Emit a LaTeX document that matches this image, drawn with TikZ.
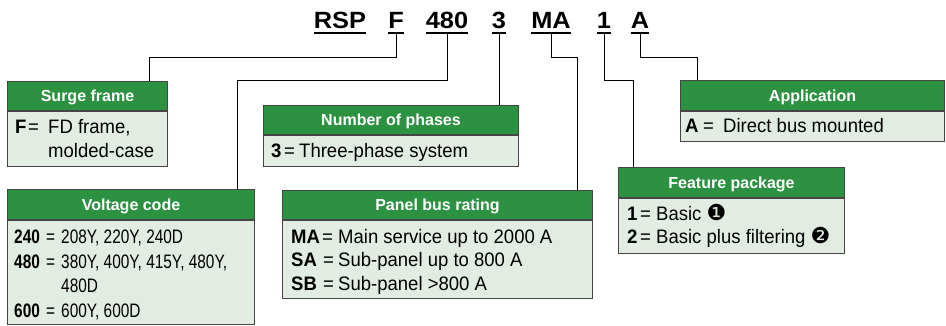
\documentclass[tikz,border=0pt]{standalone}
\usepackage{fontspec}
\setmainfont{Liberation Sans}
\newfontfamily\bodyfont{Liberation Sans}[FakeStretch=0.95]
\newfontfamily\hdrfont{Liberation Sans}
\newfontfamily\numfont{Liberation Sans}[FakeStretch=0.79]
\newfontfamily\titlefont{Liberation Sans}[FakeStretch=1.08]
\newfontfamily\dingfont{DejaVu Sans}
\definecolor{hdrgreen}{RGB}{44,146,66}
\definecolor{bodyfill}{RGB}{227,236,226}
\definecolor{bordergray}{RGB}{70,70,70}
\newcommand{\dg}[1]{{\dingfont\fontsize{22}{22}\selectfont #1}}
\tikzset{
  hdr/.style={draw=bordergray, line width=1pt, fill=hdrgreen, text=white,
    font=\hdrfont\fontsize{16}{18}\selectfont\bfseries, inner sep=0pt,
    anchor=north west, text height=11.5pt, text depth=0pt},
  bodyrect/.style={draw=bordergray, line width=1pt, fill=bodyfill, inner sep=0pt, anchor=north west},
  btxt/.style={anchor=base west, inner sep=0pt, font=\bodyfont\fontsize{19.5}{22}\selectfont},
  ntxt/.style={anchor=base west, inner sep=0pt, font=\numfont\fontsize{19.5}{22}\selectfont},
  ttl/.style={anchor=base, inner sep=0pt, font=\titlefont\fontsize{23.5}{26}\selectfont\bfseries},
  conn/.style={draw=black, line width=0.9pt},
  uline/.style={draw=black, line width=2.2pt}
}
\begin{document}
\begin{tikzpicture}[x=1pt,y=-1pt]
\useasboundingbox (0,0) rectangle (946,325);

% title
\node[ttl] (tRSP) at (340,28) {RSP};
\node[ttl] (tF) at (396,28) {F};
\node[ttl] (t480) at (447,28) {480};
\node[ttl] (t3) at (499,28) {3};
\node[ttl] (tMA) at (551,28) {MA};
\node[ttl] (t1) at (604,28) {1};
\node[ttl] (tA) at (640,28) {A};
\foreach \n in {tRSP,tF,t480,t3,tMA,t1,tA}{
  \draw[uline] ([yshift=-5pt]\n.base west) -- ([yshift=-5pt]\n.base east);
  \coordinate (u\n) at ([yshift=-5pt]\n.base);
}

% Surge frame
\node[hdr, minimum width=160pt, minimum height=29pt] (sfh) at (7,81) {Surge frame};
\node[bodyrect, minimum width=160pt, minimum height=55pt] (sfb) at (sfh.south west) {};
\node[btxt] (sf1) at (15,133) {\makebox[13pt][l]{\textbf{F}}\makebox[20pt][l]{=}FD frame,};
\node[btxt] (sf2) at (48,157) {molded-case};

% Voltage code
\node[hdr, minimum width=247pt, minimum height=30pt] (vch) at (7,189) {Voltage code};
\node[bodyrect, minimum width=247pt, minimum height=104pt] (vcb) at (vch.south west) {};
\node[ntxt] (vc1) at (14,243) {\makebox[32pt][l]{\textbf{240}}\makebox[15pt][l]{=}208Y, 220Y, 240D};
\node[ntxt] (vc2) at (14,268) {\makebox[32pt][l]{\textbf{480}}\makebox[15pt][l]{=}380Y, 400Y, 415Y, 480Y,};
\node[ntxt] (vc3) at (61,292) {480D};
\node[ntxt] (vc4) at (14,317) {\makebox[32pt][l]{\textbf{600}}\makebox[15pt][l]{=}600Y, 600D};

% Number of phases
\node[hdr, minimum width=255pt, minimum height=29pt] (nph) at (263,105) {Number of phases};
\node[bodyrect, minimum width=255pt, minimum height=31pt] (npb) at (nph.south west) {};
\node[btxt] (np1) at (271,157) {\makebox[13pt][l]{\textbf{3}}\makebox[15pt][l]{=}Three-phase system};

% Panel bus rating
\node[hdr, minimum width=310pt, minimum height=29pt] (pbh) at (282,190) {Panel bus rating};
\node[bodyrect, minimum width=310pt, minimum height=78pt] (pbb) at (pbh.south west) {};
\node[btxt] (pb1) at (291,243) {\makebox[31pt][l]{\textbf{MA}}\makebox[16pt][l]{=}Main service up to 2000 A};
\node[btxt] (pb2) at (291,266) {\makebox[32pt][l]{\textbf{SA}}\makebox[15pt][l]{=}Sub-panel up to 800 A};
\node[btxt] (pb3) at (291,290) {\makebox[32pt][l]{\textbf{SB}}\makebox[15pt][l]{=}Sub-panel >800 A};

% Feature package
\node[hdr, minimum width=226pt, minimum height=30pt] (fph) at (618,167) {Feature package};
\node[bodyrect, minimum width=226pt, minimum height=55pt] (fpb) at (fph.south west) {};
\node[btxt] (fp1) at (627,220) {\makebox[13pt][l]{\textbf{1}}\makebox[16pt][l]{=}Basic \dg{❶}};
\node[btxt] (fp2) at (627,243) {\makebox[13pt][l]{\textbf{2}}\makebox[16pt][l]{=}Basic plus filtering \dg{❷}};

% Application
\node[hdr, minimum width=264pt, minimum height=30pt] (aph) at (680,80) {Application};
\node[bodyrect, minimum width=264pt, minimum height=30pt] (apb) at (aph.south west) {};
\node[btxt] (ap1) at (685,132) {\makebox[18pt][l]{\textbf{A}}\makebox[20pt][l]{=}Direct bus mounted};

% connectors
\coordinate (bF) at (149,57);
\coordinate (b480) at (237,80);
\coordinate (bMA) at (577,57);
\coordinate (b1) at (633,80);
\coordinate (bA) at (697,57);
\draw[conn] (utF) |- (bF) -- (bF |- sfh.north);
\draw[conn] (ut480) |- (b480) -- (b480 |- vch.north);
\draw[conn] (ut3) -- (ut3 |- nph.north);
\draw[conn] (utMA) |- (bMA) -- (bMA |- pbh.north);
\draw[conn] (ut1) |- (b1) -- (b1 |- fph.north);
\draw[conn] (utA) |- (bA) -- (bA |- aph.north);
\end{tikzpicture}
\end{document}
